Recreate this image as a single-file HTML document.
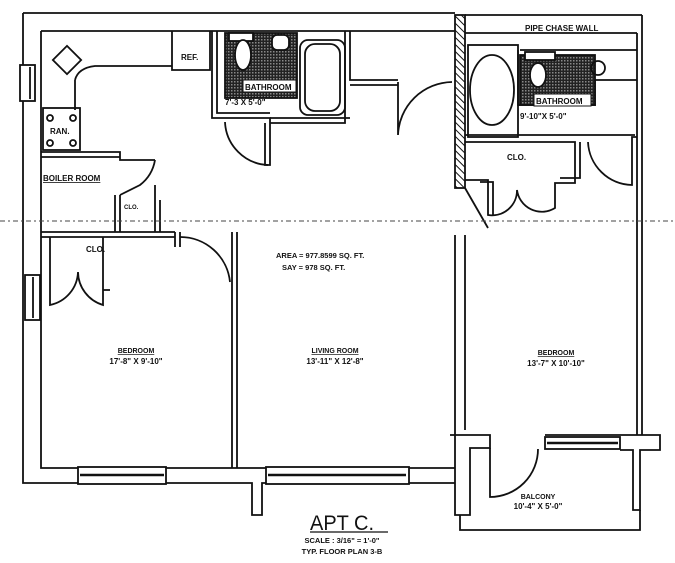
<!DOCTYPE html>
<html><head><meta charset="utf-8"><style>
html,body{margin:0;padding:0;background:#fff;}
svg{display:block;}
text{font-family:"Liberation Sans",sans-serif;fill:#111;font-weight:bold;}
</style></head><body>
<svg width="675" height="563" viewBox="0 0 675 563" xmlns="http://www.w3.org/2000/svg">
<defs>
<pattern id="hatch" width="5" height="5" patternUnits="userSpaceOnUse" patternTransform="rotate(-45)">
<rect width="5" height="5" fill="#fff"/><line x1="0" y1="0" x2="0" y2="5" stroke="#111" stroke-width="2"/></pattern>
<pattern id="tile" width="3" height="3" patternUnits="userSpaceOnUse">
<rect width="3" height="3" fill="#222"/><rect width="1.5" height="1.5" fill="#888"/></pattern>
</defs>
<g fill="none" stroke="#111" stroke-width="1.8">
<path d="M23 13 H455 M465 15 H642 M41 31 H455 M465 33 H637"/>
<path d="M23 13 V483 H252 V515 H262 V483 H455 M41 31 V468 H455"/>
<rect x="455" y="15" width="10" height="173" fill="url(#hatch)"/>
<path d="M637 33 V435 M642 15 V435"/>
<rect x="20" y="65" width="15" height="36" fill="#fff"/><line x1="30" y1="67" x2="30" y2="99"/>
<rect x="25" y="275" width="15" height="45" fill="#fff"/><line x1="33" y1="277" x2="33" y2="318"/>
<rect x="78" y="467" width="88" height="17" fill="#fff"/><line x1="80" y1="475" x2="164" y2="475" stroke-width="2.5"/>
<rect x="266" y="467" width="143" height="17" fill="#fff"/><line x1="268" y1="475" x2="406" y2="475" stroke-width="2.5"/>
<path d="M232 232 V468 M237 232 V468"/>
<path d="M455 235 V435 M465 235 V430"/>
<path d="M450 435 H490 V448 H470 V515 H455 V435"/>
<path d="M460 515 V530 H640 V510"/>
<path d="M545 435 H660 V450 H640 V510 H633 V450 H620"/>
<rect x="545" y="437" width="75" height="12" fill="#fff"/><line x1="547" y1="443" x2="618" y2="443" stroke-width="2.5"/>
<path d="M490 448 V497 A48 48 0 0 0 538 449"/>
<path d="M75 80 Q78 68 95 66 H172 M75 80 V110 M172 31 V70 H210 V31"/>
<rect x="43" y="108" width="37" height="42"/>
<circle cx="50" cy="118" r="3"/><circle cx="73" cy="118" r="3"/><circle cx="50" cy="143" r="3"/><circle cx="73" cy="143" r="3"/>
<rect x="57" y="50" width="20" height="20" transform="rotate(45 67 60)"/>
<path d="M41 152 H120 V160 H155 M41 157 H120"/>
<path d="M155 160 A40 40 0 0 1 140 185 L120 195"/>
<path d="M115 195 V232 M120 195 V232 M155 185 V232 M160 200 V232 M41 232 H175 M41 237 H175 M175 232 V247 M180 232 V247"/>
<path d="M180 237 A50 50 0 0 1 230 282"/>
<path d="M50 237 V305 A35 35 0 0 0 78 272 A35 35 0 0 0 103 305 V237 M103 290 H110"/>
<path d="M212 31 V118 H270 V165 H265 V123 M217 31 V113 H270"/>
<rect x="225" y="33" width="72" height="65" fill="url(#tile)"/>
<rect x="229" y="33" width="24" height="8" fill="#fff"/>
<ellipse cx="243" cy="55" rx="8" ry="15" fill="#fff"/>
<rect x="272" y="35" width="17" height="15" rx="5" fill="#fff"/>
<rect x="243" y="80" width="53" height="12" fill="#fff" stroke-width="1"/>
<rect x="300" y="40" width="45" height="75" rx="8"/>
<rect x="305" y="44" width="35" height="67" rx="10"/>
<path d="M270 123 H345 V31 M350 31 V80 H398 M350 85 H398 M270 118 H350"/>
<path d="M268 165 A45 45 0 0 1 225 122"/>
<path d="M398 82 V135 A55 55 0 0 1 452 82"/>
<rect x="468" y="45" width="50" height="92"/>
<ellipse cx="492" cy="90" rx="22" ry="35"/>
<path d="M518 50 V105 H595 V80 M520 50 H637 M595 80 H637"/>
<rect x="520" y="55" width="75" height="50" fill="url(#tile)"/>
<rect x="525" y="52" width="30" height="8" fill="#fff"/>
<ellipse cx="538" cy="75" rx="8" ry="12" fill="#fff"/>
<rect x="534" y="94" width="57" height="12" fill="#fff" stroke-width="1"/>
<circle cx="598" cy="68" r="7"/>
<path d="M465 135 H635 M465 142 H575 V183 H555 V208 A25 25 0 0 1 517 190 A25 25 0 0 1 488 215 V180 H465 M580 142 V178 H560"/>
<path d="M588 142 A45 45 0 0 0 632 185 V137 H637"/>
<path d="M465 188 L488 228 M480 182 H493 V215"/>
</g>
<line x1="0" y1="221" x2="675" y2="221" stroke="#444" stroke-width="1" stroke-dasharray="5,3,2,3"/>
<g font-size="8">
<text x="181" y="60">REF.</text>
<text x="50" y="134">RAN.</text>
<text x="43" y="181" text-decoration="underline">BOILER ROOM</text>
<text x="124" y="209" font-size="6">CLO.</text>
<text x="86" y="252">CLO.</text>
<text x="245" y="90">BATHROOM</text>
<text x="225" y="105">7'-3 X 5'-0"</text>
<text x="525" y="31">PIPE CHASE WALL</text>
<text x="536" y="104">BATHROOM</text>
<text x="520" y="119">9'-10"X 5'-0"</text>
<text x="507" y="160">CLO.</text>
<text x="276" y="258" font-size="7.5">AREA = 977.8599 SQ. FT.</text>
<text x="282" y="270" font-size="7.5">SAY = 978 SQ. FT.</text>
<text x="136" y="353" text-anchor="middle" font-size="7" text-decoration="underline">BEDROOM</text>
<text x="136" y="364" text-anchor="middle" font-size="8">17'-8" X 9'-10"</text>
<text x="335" y="353" text-anchor="middle" font-size="7" text-decoration="underline">LIVING ROOM</text>
<text x="335" y="364" text-anchor="middle" font-size="8">13'-11" X 12'-8"</text>
<text x="556" y="355" text-anchor="middle" font-size="7" text-decoration="underline">BEDROOM</text>
<text x="556" y="366" text-anchor="middle" font-size="8">13'-7" X 10'-10"</text>
<text x="538" y="499" text-anchor="middle" font-size="7">BALCONY</text>
<text x="538" y="509" text-anchor="middle" font-size="8">10'-4" X 5'-0"</text>
<text x="342" y="530" text-anchor="middle" font-size="21" style="font-weight:normal" textLength="64" lengthAdjust="spacingAndGlyphs">APT C.</text>
<line x1="310" y1="532" x2="388" y2="532" stroke="#111" stroke-width="1.3"/>
<text x="342" y="543" text-anchor="middle" font-size="7.5">SCALE : 3/16" = 1'-0"</text>
<text x="342" y="554" text-anchor="middle" font-size="7.5">TYP. FLOOR PLAN 3-B</text>
</g>
</svg>
</body></html>
